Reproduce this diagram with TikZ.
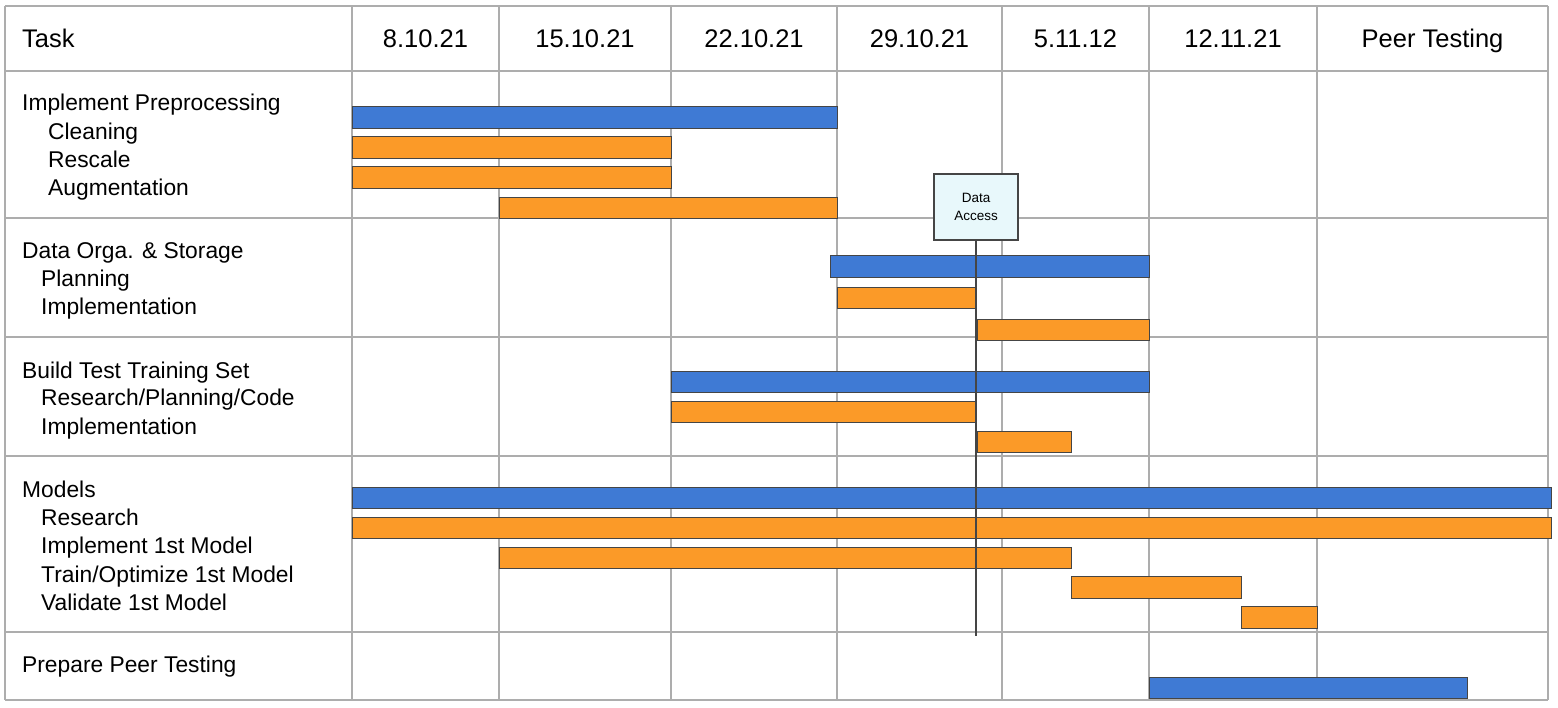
\documentclass[tikz,border=0pt]{standalone}
\usepackage{fontspec}
\setmainfont{Liberation Sans}
\definecolor{gridc}{HTML}{ADADAD}
\definecolor{barblue}{HTML}{3F7AD4}
\definecolor{barorange}{HTML}{FB9A28}
\definecolor{barline}{HTML}{454545}
\definecolor{boxfill}{HTML}{E8F8FB}
\tikzset{
  gridline/.style={draw=gridc, line width=1.6pt},
  barbase/.style={draw=barline, line width=1.4pt, inner sep=0pt, anchor=north west},
  bluebar/.style={barbase, fill=barblue},
  orangebar/.style={barbase, fill=barorange},
  head/.style={font=\fontsize{25.5}{30}\selectfont, anchor=base, inner sep=0pt},
  task/.style={font=\fontsize{22.8}{27}\selectfont, anchor=base west, inner sep=0pt},
  milestone/.style={draw=barline, line width=1.4pt, fill=boxfill, inner sep=0pt,
    minimum width=84pt, minimum height=66pt, align=center,
    font=\fontsize{13.5}{18}\selectfont},
  mline/.style={draw=barline, line width=1.4pt}
}
\newcommand{\gbar}[6]{\node[#2, minimum width={(#5-#3)*1pt}, minimum height={(#6-#4)*1pt}] (#1) at (#3,#4) {};}
\begin{document}
\begin{tikzpicture}[x=1pt,y=-1pt]
\useasboundingbox (0,0) rectangle (1558,708);
% grid
\foreach \yy in {6,71,218,337,456,632,700} {\draw[gridline] (5,\yy) -- (1548,\yy);}
\foreach \xx in {5,352,499,671,837,1002,1149,1317,1548} {\draw[gridline] (\xx,6) -- (\xx,700);}
% header
\node[task, font=\fontsize{25.5}{30}\selectfont] (hTask) at (22,48) {Task};
\node[head] (h1) at (425.5,48) {8.10.21};
\node[head] (h2) at (585,48) {15.10.21};
\node[head] (h3) at (754,48) {22.10.21};
\node[head] (h4) at (919.5,48) {29.10.21};
\node[head] (h5) at (1075.5,48) {5.11.12};
\node[head] (h6) at (1233,48) {12.11.21};
\node[head] (h7) at (1432.5,48) {Peer Testing};
% task labels
\node[task] (t1) at (22,111) {Implement Preprocessing};
\node[task] (t1a) at (48,140) {Cleaning};
\node[task] (t1b) at (48,168) {Rescale};
\node[task] (t1c) at (48,196) {Augmentation};
\node[task] (t2) at (22,259) {Data Orga. \& Storage};
\node[task] (t2a) at (41,287) {Planning};
\node[task] (t2b) at (41,315) {Implementation};
\node[task] (t3) at (22,378) {Build Test Training Set};
\node[task] (t3a) at (41,406) {Research/Planning/Code};
\node[task] (t3b) at (41,434) {Implementation};
\node[task] (t4) at (22,497) {Models};
\node[task] (t4a) at (41,525) {Research};
\node[task] (t4b) at (41,553) {Implement 1st Model};
\node[task] (t4c) at (41,582) {Train/Optimize 1st Model};
\node[task] (t4d) at (41,610) {Validate 1st Model};
\node[task] (t5) at (22,672) {Prepare Peer Testing};
% bars
\gbar{b1}{bluebar}{352}{106}{837}{128}
\gbar{b1a}{orangebar}{352}{136}{671}{158}
\gbar{b1b}{orangebar}{352}{166}{671}{188}
\gbar{b1c}{orangebar}{499}{197}{837}{218}
\gbar{b2}{bluebar}{830}{255}{1149}{277}
\gbar{b2a}{orangebar}{837}{287}{976}{308}
\gbar{b2b}{orangebar}{977}{319}{1149}{340}
\gbar{b3}{bluebar}{671}{371}{1149}{392}
\gbar{b3a}{orangebar}{671}{401}{975}{422}
\gbar{b3b}{orangebar}{977}{431}{1071}{452}
\gbar{b4}{bluebar}{352}{487}{1551}{508}
\gbar{b4a}{orangebar}{352}{517}{1551}{538}
\gbar{b4b}{orangebar}{499}{547}{1071}{568}
\gbar{b4c}{orangebar}{1071}{576}{1241}{598}
\gbar{b4d}{orangebar}{1241}{606}{1317}{628}
\gbar{b5}{bluebar}{1149}{677}{1467}{698}
% milestone
\node[milestone] (da) at (976,207) {Data\\Access};
\coordinate (daend) at (976,636);
\draw[mline] (da.south) -- (daend);
\end{tikzpicture}
\end{document}
